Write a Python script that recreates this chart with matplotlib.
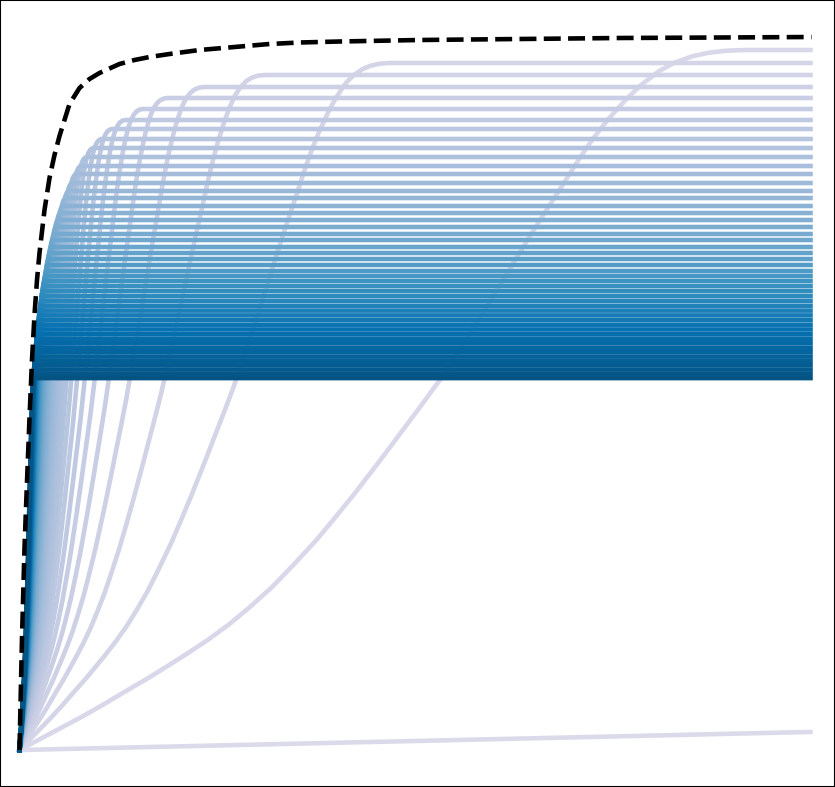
import numpy as np
import matplotlib
matplotlib.use("Agg")
import matplotlib.pyplot as plt

# ---- data (x = steps, y = score, pixel-like units) ----
# normalised rise shape of one curve (s = time / rise time, u = value / plateau)
shape_s = [0.00, 0.05, 0.10, 0.15, 0.20, 0.25, 0.31, 0.35, 0.40, 0.45, 0.50, 0.548,
           0.60, 0.65, 0.707, 0.75, 0.80, 0.864, 0.90, 0.95, 1.00, 1.05, 1.10, 1.15,
           1.214, 1.25, 1.292, 1.333, 1.364, 1.40, 1.445, 1.48, 1.523, 1.56, 1.602,
           1.64, 1.683, 1.73]
shape_u = [0.000, 0.016, 0.032, 0.048, 0.065, 0.083, 0.104, 0.119, 0.138, 0.158, 0.180, 0.204,
           0.232, 0.263, 0.300, 0.331, 0.368, 0.418, 0.447, 0.487, 0.528, 0.574, 0.621, 0.670,
           0.733, 0.767, 0.806, 0.845, 0.872, 0.900, 0.930, 0.950, 0.970, 0.982, 0.991,
           0.996, 0.999, 1.000]

# plateau level of each curve (curve 0 = slowest, curve 50 = fastest)
plateau = [713.0, 700.0, 687.0, 675.0, 663.0, 652.0, 641.0, 630.0, 621.0, 611.0, 602.0,
           593.0, 584.0, 576.0, 567.0, 559.0, 552.0, 544.0, 537.0, 530.0, 523.0,
           516.0, 510.0, 503.0, 497.0, 491.0, 485.0, 479.0, 474.0, 469.0, 464.0,
           459.0, 454.0, 449.1, 444.2, 439.4, 434.6, 429.8, 425.1, 420.5, 415.8,
           411.3, 406.7, 402.2, 397.8, 393.4, 389.0, 384.7, 380.4, 376.1, 371.9]

# rise time of each curve (time at which it reaches about half of its plateau)
rise = [10000.0, 420.0, 214.0, 141.6, 106.6, 85.5, 71.3, 61.2, 53.6, 47.7, 42.9,
        39.0, 35.8, 33.0, 30.7, 28.7, 26.9, 25.3, 23.9, 22.6, 21.5,
        20.5, 19.6, 18.7, 17.9, 17.2, 16.6, 15.9, 15.4, 14.8, 14.3,
        13.9, 13.5, 13.0, 12.7, 12.3, 12.0, 11.6, 11.3, 11.0, 10.8,
        10.5, 10.3, 10.0, 9.8, 9.6, 9.4, 9.2, 9.0, 8.8, 8.6]

# dashed envelope
dash_x = [0, 2.5, 5, 7.5, 10, 12.5, 15, 17.5, 20, 25, 30, 35, 40, 45, 50, 60, 70, 80,
          100, 115, 130, 150, 180, 215, 250, 280, 320, 400, 500, 600, 700, 792]
dash_y = [0, 112, 202, 268, 332, 390, 435, 470, 497, 540, 572, 595, 614, 630, 646, 662, 671, 677,
          686, 690, 693, 696, 700, 703, 706, 707.5, 708.5, 710, 711, 712, 712.5, 713]

x_end = 791.0

# ---- figure ----
fig = plt.figure(figsize=(8.35, 7.87), dpi=100)
ax = fig.add_axes([0, 0, 1, 1])
cmap = plt.get_cmap("PuBu")
colors = cmap(np.linspace(0.2, 0.9, len(plateau)))

s_arr = np.array(shape_s)
u_arr = np.array(shape_u)
for K, T, c in zip(plateau, rise, colors):
    xs = s_arr * T
    ys = u_arr * K
    keep = xs < x_end
    if xs[-1] > x_end:
        ye = np.interp(x_end, xs, ys)
    else:
        ye = K
    px = np.append(xs[keep], x_end)
    py = np.append(ys[keep], ye)
    ax.plot(px, py, color=c, lw=3.3)

ax.plot(dash_x, dash_y, color="black", ls="--", lw=3.3)

ax.set_xlim(-19.5, 815.5)
ax.set_ylim(-37, 750)
ax.set_xticks([])
ax.set_yticks([])
for sp in ax.spines.values():
    sp.set_linewidth(1.5)
    sp.set_color("black")

fig.savefig("out.png", dpi=100)
